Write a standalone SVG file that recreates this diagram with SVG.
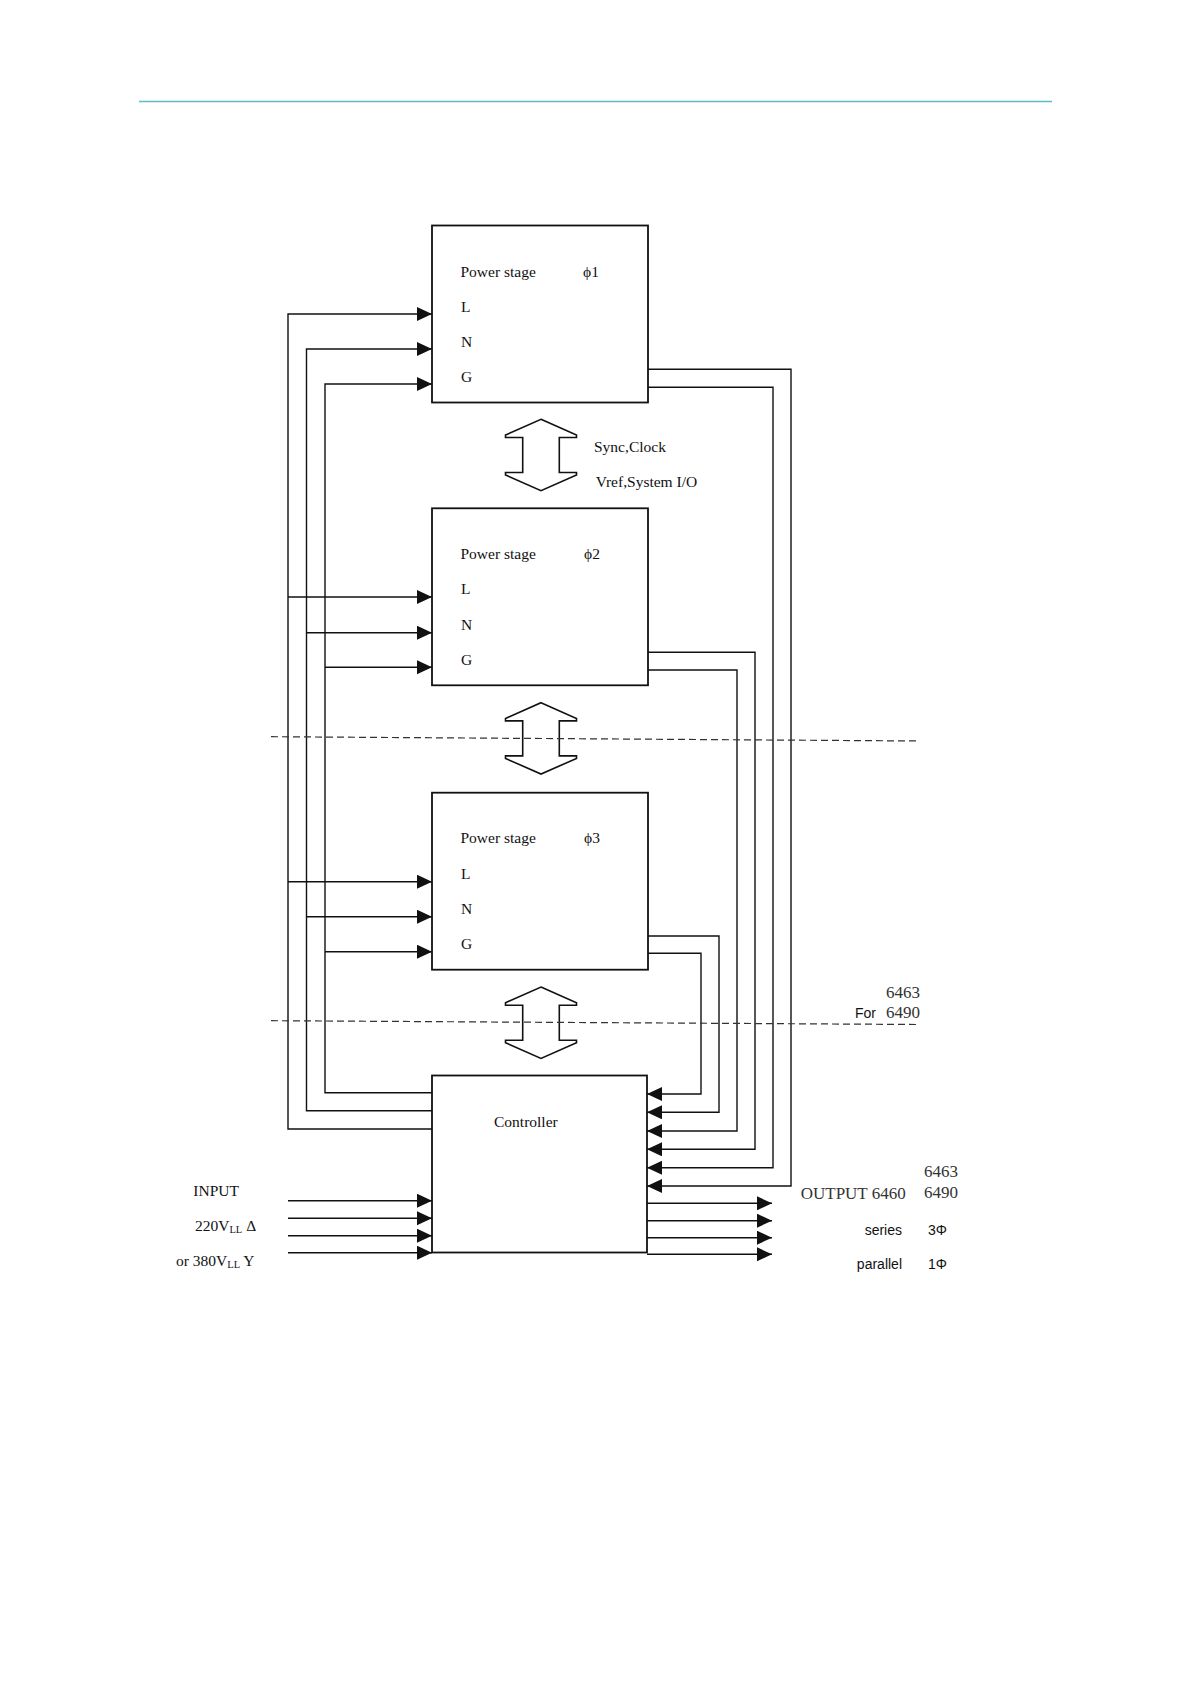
<svg xmlns="http://www.w3.org/2000/svg" width="1191" height="1684" viewBox="0 0 1191 1684">
<style>
  .box { fill: #ffffff; stroke: #111111; stroke-width: 1.8; }
  .wire { fill: none; stroke: #111111; stroke-width: 1.4; }
  .dash { fill: none; stroke: #333333; stroke-width: 1.2; stroke-dasharray: 7 4; }
  .dbl { fill: #ffffff; stroke: #111111; stroke-width: 1.6; stroke-linejoin: miter; }
  .t { font-family: "Liberation Serif", "Times New Roman", serif; font-size: 15.5px; fill: #111111; }
  .num { font-family: "Liberation Serif", "Times New Roman", serif; font-size: 17px; fill: #333333; }
  .s { font-family: "Liberation Sans", Arial, sans-serif; font-size: 14px; fill: #111111; }
</style>
<defs>
  <marker id="ah" markerUnits="userSpaceOnUse" markerWidth="16" markerHeight="15" refX="15" refY="7" orient="auto">
    <path d="M0,0 L15,7 L0,14 Z" fill="#111111"/>
  </marker>
</defs>
<rect x="0" y="0" width="1191" height="1684" fill="#ffffff"/>
<line x1="139" y1="101.5" x2="1052" y2="101.5" stroke="#5bbcc8" stroke-width="1.3"/>

<g id="connectors">
  <!-- L bus -->
  <path class="wire" d="M432,1129 H288 V314 H432" marker-end="url(#ah)"/>
  <path class="wire" d="M288,597 H432" marker-end="url(#ah)"/>
  <path class="wire" d="M288,881.7 H432" marker-end="url(#ah)"/>
  <!-- N bus -->
  <path class="wire" d="M432,1110.7 H306.5 V349 H432" marker-end="url(#ah)"/>
  <path class="wire" d="M306.5,632.7 H432" marker-end="url(#ah)"/>
  <path class="wire" d="M306.5,916.7 H432" marker-end="url(#ah)"/>
  <!-- G bus -->
  <path class="wire" d="M432,1092.7 H325 V384 H432" marker-end="url(#ah)"/>
  <path class="wire" d="M325,667.3 H432" marker-end="url(#ah)"/>
  <path class="wire" d="M325,951.7 H432" marker-end="url(#ah)"/>
  <!-- outputs of power stages back to controller -->
  <path class="wire" d="M648,369.3 H791 V1186 H647" marker-end="url(#ah)"/>
  <path class="wire" d="M648,387.3 H773 V1167.7 H647" marker-end="url(#ah)"/>
  <path class="wire" d="M648,652.3 H755 V1149.3 H647" marker-end="url(#ah)"/>
  <path class="wire" d="M648,670 H737 V1131 H647" marker-end="url(#ah)"/>
  <path class="wire" d="M648,936 H719 V1112.3 H647" marker-end="url(#ah)"/>
  <path class="wire" d="M648,953.3 H701 V1094 H647" marker-end="url(#ah)"/>
  <!-- inputs -->
  <path class="wire" d="M288,1200.7 H432" marker-end="url(#ah)"/>
  <path class="wire" d="M288,1218.3 H432" marker-end="url(#ah)"/>
  <path class="wire" d="M288,1235.7 H432" marker-end="url(#ah)"/>
  <path class="wire" d="M288,1252.7 H432" marker-end="url(#ah)"/>
  <!-- outputs -->
  <path class="wire" d="M647,1203.3 H772" marker-end="url(#ah)"/>
  <path class="wire" d="M647,1220.7 H772" marker-end="url(#ah)"/>
  <path class="wire" d="M647,1237.7 H772" marker-end="url(#ah)"/>
  <path class="wire" d="M647,1254.3 H772" marker-end="url(#ah)"/>
  <!-- double arrows -->
  <path class="dbl" d="M541,419.3 L576.5,435 L576.5,437.5 L559.3,437.5 L559.3,472.5 L576.5,472.5 L576.5,475 L541,490.7 L505.5,475 L505.5,472.5 L522.7,472.5 L522.7,437.5 L505.5,437.5 L505.5,435 Z"/>
  <path class="dbl" d="M541,702.7 L576.5,718.4 L576.5,720.9 L559.3,720.9 L559.3,755.9 L576.5,755.9 L576.5,758.4 L541,774.1 L505.5,758.4 L505.5,755.9 L522.7,755.9 L522.7,720.9 L505.5,720.9 L505.5,718.4 Z"/>
  <path class="dbl" d="M541,987 L576.5,1002.7 L576.5,1005.2 L559.3,1005.2 L559.3,1040.2 L576.5,1040.2 L576.5,1042.7 L541,1058.4 L505.5,1042.7 L505.5,1040.2 L522.7,1040.2 L522.7,1005.2 L505.5,1005.2 L505.5,1002.7 Z"/>
  <!-- dashed separators -->
  <path class="dash" d="M271,736.7 L920,741"/>
  <path class="dash" d="M271,1020.7 L920,1024.5"/>
</g>

<g id="box1">
  <rect class="box" x="432" y="225.5" width="216" height="177"/>
  <text class="t" x="460.5" y="276.7">Power stage</text>
  <text class="t" x="583" y="276.7">ϕ1</text>
  <text class="t" x="461" y="311.7">L</text>
  <text class="t" x="461" y="346.7">N</text>
  <text class="t" x="461" y="381.7">G</text>
</g>
<g id="box2">
  <rect class="box" x="432" y="508.3" width="216" height="177"/>
  <text class="t" x="460.5" y="559.3">Power stage</text>
  <text class="t" x="584" y="559.3">ϕ2</text>
  <text class="t" x="461" y="594.3">L</text>
  <text class="t" x="461" y="630">N</text>
  <text class="t" x="461" y="665">G</text>
</g>
<g id="box3">
  <rect class="box" x="432" y="792.7" width="216" height="177"/>
  <text class="t" x="460.5" y="843.3">Power stage</text>
  <text class="t" x="584" y="843.3">ϕ3</text>
  <text class="t" x="461" y="879.3">L</text>
  <text class="t" x="461" y="914">N</text>
  <text class="t" x="461" y="949">G</text>
</g>
<g id="controller">
  <rect class="box" x="432" y="1075.5" width="215" height="177"/>
  <text class="t" x="494" y="1127.3">Controller</text>
</g>

<g id="labels">
  <text class="t" x="594" y="452.3">Sync,Clock</text>
  <text class="t" x="595.7" y="487.3">Vref,System I/O</text>
  <text class="num" x="920" y="998.3" text-anchor="end">6463</text>
  <text class="s" x="855" y="1018.3">For</text>
  <text class="num" x="920" y="1018.3" text-anchor="end">6490</text>
  <text class="t" x="193.3" y="1195.5">INPUT</text>
  <text class="t" x="195" y="1230.5">220V<tspan font-size="10.5px" dy="2">LL</tspan><tspan dy="-2"> Δ</tspan></text>
  <text class="t" x="176" y="1265.5">or 380V<tspan font-size="10.5px" dy="2">LL</tspan><tspan dy="-2"> Y</tspan></text>
  <text class="num" x="924" y="1176.7">6463</text>
  <text class="num" x="800.7" y="1199.3" font-size="16.5px">OUTPUT 6460</text>
  <text class="num" x="924" y="1198.3">6490</text>
  <text class="s" x="902" y="1235" text-anchor="end">series</text>
  <text class="s" x="928" y="1235">3Φ</text>
  <text class="s" x="902" y="1269" text-anchor="end">parallel</text>
  <text class="s" x="928" y="1269">1Φ</text>
</g>
</svg>
